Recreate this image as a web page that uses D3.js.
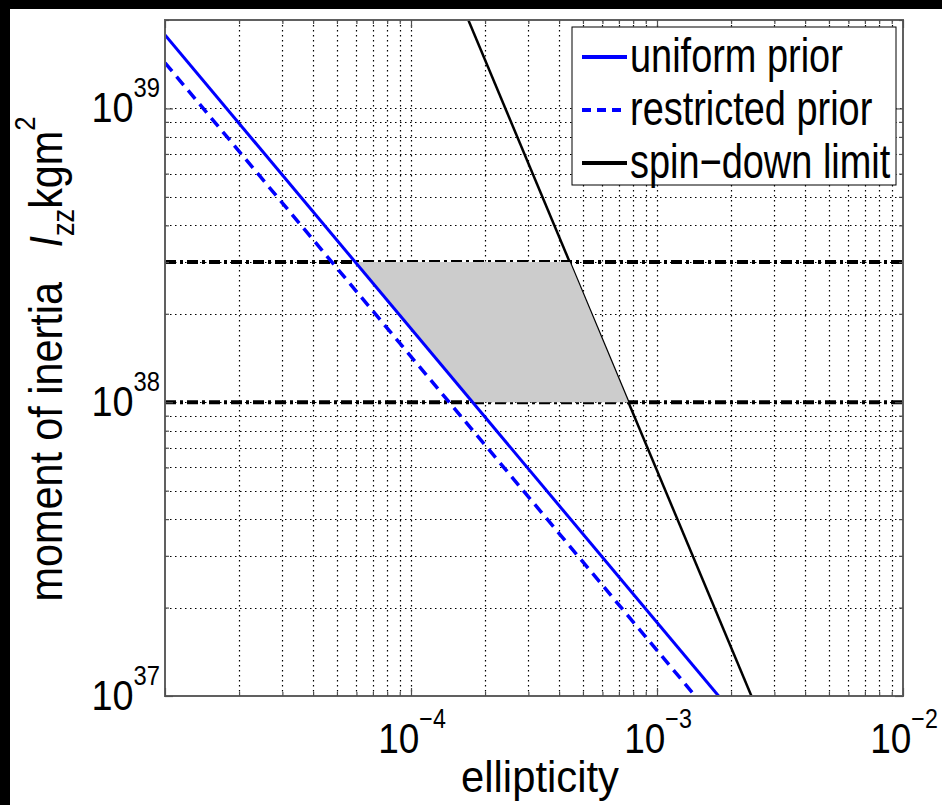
<!DOCTYPE html>
<html>
<head>
<meta charset="utf-8">
<script src="https://cdn.jsdelivr.net/npm/d3@7"></script>
<style>
body { margin: 0; background: #fff; }
text { font-family: "Liberation Sans", Arial, sans-serif; fill: #000; }
</style>
</head>
<body>
<div id="canvas"></div>
<script>
// values: [ellipticity, I_zz]
const uniformPrior = [[1e-5, 1.78e39], [1.78e-3, 1e37]];
const restrictedPrior = [[1e-5, 1.43e39], [1.43e-3, 1e37]];
const spinDown = [[1.71e-4, 2e39], [2.42e-3, 1e37]];
const allowedRegion = [[5.93e-5, 3e38], [4.42e-4, 3e38], [7.65e-4, 1e38], [1.78e-4, 1e38]];
const inertiaBounds = [1e38, 3e38];

const xTickExps = [-4, -3, -2];
const yTickExps = [37, 38, 39];

const legendNames = ["uniform prior", "restricted prior", "spin\u2212down limit"];
const legendColors = ["#0000ff", "#0000ff", "#000000"];
const legendDash = [null, "9,6", null];

const width = 942;
const height = 805;
const margin = {top: 20, left: 165, bottom: 109, right: 39};
const iwidth = width - margin.left - margin.right;
const iheight = height - margin.top - margin.bottom;

const svg = d3.select("#canvas").append("svg")
    .attr("width", width)
    .attr("height", height);

// black strip on top/left like the original figure window
svg.append("rect").attr("width", width).attr("height", height).attr("fill", "#000");
svg.append("rect").attr("x", 10).attr("y", 9).attr("width", width - 10).attr("height", height - 9).attr("fill", "#fff");

const g = svg.append("g").attr("transform", `translate(${margin.left}, ${margin.top})`);

const x = d3.scaleLog().domain([1e-5, 1e-2]).range([0, iwidth]);
const y = d3.scaleLog().domain([1e37, 2e39]).range([iheight, 0]);

g.append("clipPath").attr("id", "plotclip")
  .append("rect").attr("width", iwidth).attr("height", iheight);

const plot = g.append("g").attr("clip-path", "url(#plotclip)");

// dotted grid, major and minor
const xGrid = x.ticks().filter(v => x(v) > 1 && x(v) < iwidth - 1);
const yGrid = y.ticks().filter(v => y(v) > 1 && y(v) < iheight - 1);

plot.selectAll(".vgrid").data(xGrid).enter().append("line")
    .attr("x1", d => Math.round(x(d)) + 0.5).attr("x2", d => Math.round(x(d)) + 0.5)
    .attr("y1", 0).attr("y2", iheight)
    .attr("stroke", "#000").attr("stroke-width", 1.2)
    .attr("stroke-dasharray", "1.5,3.5");

plot.selectAll(".hgrid").data(yGrid).enter().append("line")
    .attr("y1", d => Math.round(y(d)) + 0.5).attr("y2", d => Math.round(y(d)) + 0.5)
    .attr("x1", 0).attr("x2", iwidth)
    .attr("stroke", "#000").attr("stroke-width", 1.2)
    .attr("stroke-dasharray", "1.5,3.5");

const line = d3.line().x(d => x(d[0])).y(d => y(d[1]));

// dash-dot bounds on I_zz
plot.selectAll(".bound").data(inertiaBounds).enter().append("line")
    .attr("x1", 0).attr("x2", iwidth)
    .attr("y1", d => y(d)).attr("y2", d => y(d))
    .attr("stroke", "#000").attr("stroke-width", 4)
    .attr("stroke-dasharray", "11,4,3,4");

plot.append("path").datum(spinDown)
    .attr("d", line).attr("fill", "none")
    .attr("stroke", "#000").attr("stroke-width", 2.5);

plot.append("path").datum(allowedRegion)
    .attr("d", d => line(d) + "Z")
    .attr("fill", "#cccccc").attr("stroke", "none");

plot.append("path").datum(restrictedPrior)
    .attr("d", line).attr("fill", "none")
    .attr("stroke", "#0000ff").attr("stroke-width", 3.5)
    .attr("stroke-dasharray", "11,7");

plot.append("path").datum(uniformPrior)
    .attr("d", line).attr("fill", "none")
    .attr("stroke", "#0000ff").attr("stroke-width", 3);

// box
g.append("rect").attr("width", iwidth).attr("height", iheight)
    .attr("fill", "none").attr("stroke", "#606060").attr("stroke-width", 2);

// inward ticks on all four sides
const isDecade = v => Math.abs(Math.log10(v) - Math.round(Math.log10(v))) < 1e-9;
const xMajor = x.ticks().filter(isDecade);
const xMinor = x.ticks().filter(v => !isDecade(v));
const yMajor = y.ticks().filter(isDecade);
const yMinor = y.ticks().filter(v => !isDecade(v));

function ticks(axis, vals, size, tr) {
    const a = g.append("g").attr("transform", tr)
        .call(axis.tickValues(vals).tickSize(-size).tickFormat(""));
    a.select(".domain").remove();
    a.selectAll("line").attr("stroke", "#505050").attr("stroke-width", 1.2);
}
ticks(d3.axisBottom(x), xMinor, 4, `translate(0, ${iheight})`);
ticks(d3.axisBottom(x), xMajor, 8, `translate(0, ${iheight})`);
ticks(d3.axisTop(x), xMinor, 4, "translate(0, 0)");
ticks(d3.axisTop(x), xMajor, 8, "translate(0, 0)");
ticks(d3.axisLeft(y), yMinor, 4, "translate(0, 0)");
ticks(d3.axisLeft(y), yMajor, 8, "translate(0, 0)");
ticks(d3.axisRight(y), yMinor, 4, `translate(${iwidth}, 0)`);
ticks(d3.axisRight(y), yMajor, 8, `translate(${iwidth}, 0)`);

// tick labels 10^n
function powerLabel(sel, e) {
    sel.append("tspan").style("font-size", "43px").text("10");
    sel.append("tspan").style("font-size", "27px").attr("dy", -25)
        .text(e < 0 ? "\u2212" + (-e) : String(e));
}

xTickExps.forEach(e => {
    const t = g.append("text")
        .attr("text-anchor", "middle")
        .attr("transform", `translate(${x(Math.pow(10, e)) + 1}, ${753 - margin.top}) scale(0.86, 1)`);
    powerLabel(t, e);
});

yTickExps.forEach(e => {
    const t = g.append("text")
        .attr("text-anchor", "end")
        .attr("transform", `translate(-5, ${y(Math.pow(10, e)) + 14}) scale(0.88, 1)`);
    powerLabel(t, e);
});

// axis labels
g.append("text")
    .attr("text-anchor", "middle")
    .style("font-size", "44px")
    .attr("transform", `translate(${iwidth / 2 + 6}, ${792 - margin.top}) scale(0.95, 1)`)
    .text("ellipticity");

const yl = g.append("text")
    .attr("text-anchor", "middle")
    .style("font-size", "47px")
    .attr("transform", `translate(${62 - margin.left}, ${iheight / 2 + 1}) rotate(-90) scale(0.88, 1)`);
yl.append("tspan").text("moment of inertia\u00a0\u00a0\u00a0");
yl.append("tspan").style("font-style", "italic").text("I");
yl.append("tspan").style("font-size", "31px").attr("dy", 12).text("zz");
yl.append("tspan").attr("dy", -12).text("kgm");
yl.append("tspan").style("font-size", "29px").attr("dy", -27).text("2");

// legend
const lg = g.append("g").attr("transform", `translate(${572 - margin.left}, ${27 - margin.top})`);
lg.append("rect").attr("width", 324).attr("height", 158)
    .attr("fill", "#fff").attr("stroke", "#000").attr("stroke-width", 1);

legendNames.forEach((name, i) => {
    const ry = 30 + i * 53;
    lg.append("line")
        .attr("x1", 10).attr("x2", 55).attr("y1", ry).attr("y2", ry)
        .attr("stroke", legendColors[i]).attr("stroke-width", 4)
        .attr("stroke-dasharray", legendDash[i]);
    lg.append("text")
        .style("font-size", "48px")
        .attr("transform", `translate(58, ${ry + 15}) scale(0.79, 1)`)
        .text(name);
});
</script>
</body>
</html>
